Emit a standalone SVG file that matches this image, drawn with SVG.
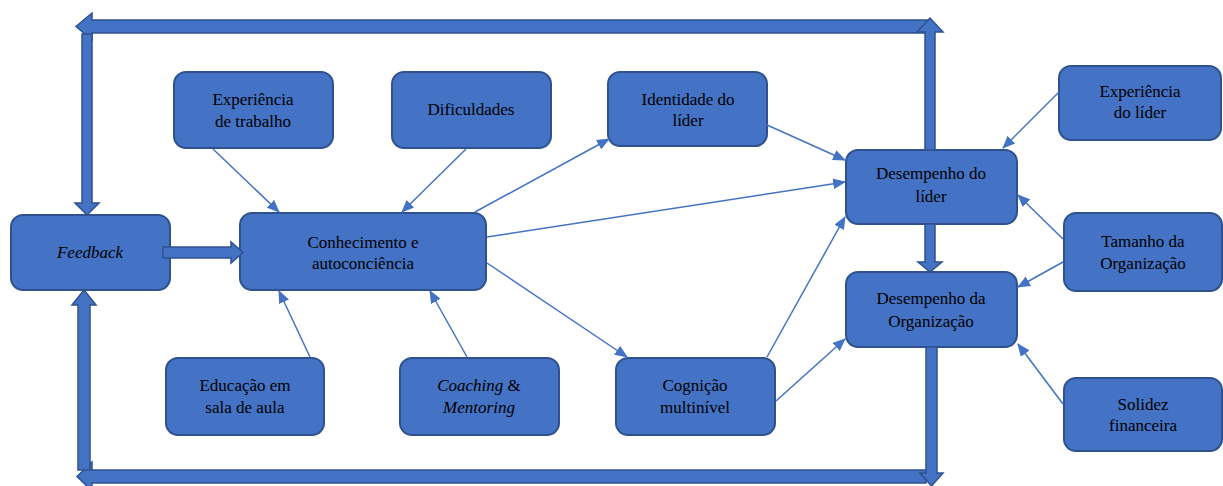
<svg xmlns="http://www.w3.org/2000/svg" width="1223" height="486" viewBox="0 0 1223 486">
<defs>
<style>
.node rect{fill:#4472C4;stroke:#2F528F;stroke-width:2}
.node text{font-size:17px;fill:#000;text-anchor:middle}
.it{font-style:italic}
.thin{stroke:#4472C4;stroke-width:1.5;fill:none}
.blk{fill:#4472C4;stroke:#2F528F;stroke-width:1.5;stroke-linejoin:miter}
</style>
<marker id="ah" viewBox="0 0 12 10" refX="11" refY="5" markerWidth="13" markerHeight="11" markerUnits="userSpaceOnUse" orient="auto"><path d="M0,0 L12,5 L0,10 z" fill="#4472C4"/></marker>
</defs>
<rect width="1223" height="486" fill="#fff"/>
<g font-family="Tinos, 'Liberation Serif', 'Noto Serif', 'DejaVu Serif', Times, serif">
<g id="n-feedback" class="node"><rect x="11" y="215" width="159" height="75" rx="12"/><text x="90" y="258" class="it">Feedback</text></g>
<g id="n-exptrab" class="node"><rect x="174" y="72" width="159" height="76" rx="12"/><text x="253" y="105">Experiência</text><text x="253" y="127">de trabalho</text></g>
<g id="n-dific" class="node"><rect x="392" y="72" width="159" height="76" rx="12"/><text x="471" y="115">Dificuldades</text></g>
<g id="n-ident" class="node"><rect x="608" y="72" width="159" height="74" rx="12"/><text x="688" y="105">Identidade do</text><text x="688" y="126">líder</text></g>
<g id="n-explider" class="node"><rect x="1059" y="66" width="162" height="74" rx="12"/><text x="1140" y="97">Experiência</text><text x="1140" y="118">do líder</text></g>
<g id="n-conhec" class="node"><rect x="240" y="213" width="246" height="77" rx="12"/><text x="363" y="248">Conhecimento e</text><text x="363" y="269">autoconciência</text></g>
<g id="n-desemlider" class="node"><rect x="846" y="150" width="171" height="74" rx="12"/><text x="931" y="179">Desempenho do</text><text x="931" y="202">líder</text></g>
<g id="n-tamanho" class="node"><rect x="1064" y="213" width="158" height="78" rx="12"/><text x="1143" y="247">Tamanho da</text><text x="1143" y="269">Organização</text></g>
<g id="n-desemorg" class="node"><rect x="846" y="272" width="171" height="75" rx="12"/><text x="931" y="304">Desempenho da</text><text x="931" y="327">Organização</text></g>
<g id="n-educ" class="node"><rect x="166" y="358" width="158" height="77" rx="12"/><text x="245" y="391">Educação em</text><text x="245" y="413">sala de aula</text></g>
<g id="n-coach" class="node"><rect x="400" y="358" width="159" height="77" rx="12"/><text x="479" y="391"><tspan class="it">Coaching</tspan> &amp;</text><text x="479" y="413" class="it">Mentoring</text></g>
<g id="n-cogn" class="node"><rect x="616" y="358" width="159" height="77" rx="12"/><text x="695" y="391">Cognição</text><text x="695" y="413">multinível</text></g>
<g id="n-solidez" class="node"><rect x="1064" y="378" width="158" height="73" rx="12"/><text x="1143" y="410">Solidez</text><text x="1143" y="431">financeira</text></g>
</g>
<g id="connectors">
<line class="thin" x1="213" y1="149" x2="279" y2="212" marker-end="url(#ah)"/>
<line class="thin" x1="466" y1="149" x2="402" y2="212" marker-end="url(#ah)"/>
<line class="thin" x1="310" y1="357" x2="279" y2="291" marker-end="url(#ah)"/>
<line class="thin" x1="467" y1="357" x2="430" y2="291" marker-end="url(#ah)"/>
<line class="thin" x1="475" y1="212" x2="609" y2="139" marker-end="url(#ah)"/>
<line class="thin" x1="487" y1="237" x2="845" y2="182" marker-end="url(#ah)"/>
<line class="thin" x1="487" y1="263" x2="627" y2="357" marker-end="url(#ah)"/>
<line class="thin" x1="767" y1="125" x2="845" y2="160" marker-end="url(#ah)"/>
<line class="thin" x1="767" y1="357" x2="845" y2="217" marker-end="url(#ah)"/>
<line class="thin" x1="776" y1="401" x2="845" y2="339" marker-end="url(#ah)"/>
<line class="thin" x1="1059" y1="92" x2="1003" y2="148" marker-end="url(#ah)"/>
<line class="thin" x1="1063" y1="239" x2="1018" y2="195" marker-end="url(#ah)"/>
<line class="thin" x1="1063" y1="262" x2="1018" y2="287" marker-end="url(#ah)"/>
<line class="thin" x1="1063" y1="404" x2="1018" y2="344" marker-end="url(#ah)"/>
<polygon class="blk" points="163,247 231,247 231,242 243,252.5 231,263 231,258 163,258"/>
<polygon class="blk" points="925,224 935,224 935,262 942,262 930,272 918,262 925,262"/>
<polygon class="blk" points="927,20 92,20 92,13 76,26.5 92,40 92,33 927,33"/>
<polygon class="blk" points="925,150 925,32 917,32 930,18 943,32 935,32 935,150"/>
<polygon class="blk" points="82,34 92,34 92,203 99,203 87,215 75,203 82,203"/>
<polygon class="blk" points="926,470 92,470 92,462 77,476.5 92,491 92,483 926,483"/>
<polygon class="blk" points="926,347 937,347 937,473 943,473 931.5,486 920,473 926,473"/>
<polygon class="blk" points="78,470 78,305 72,305 84,290 96,305 90,305 90,470"/>
</g>
</svg>
